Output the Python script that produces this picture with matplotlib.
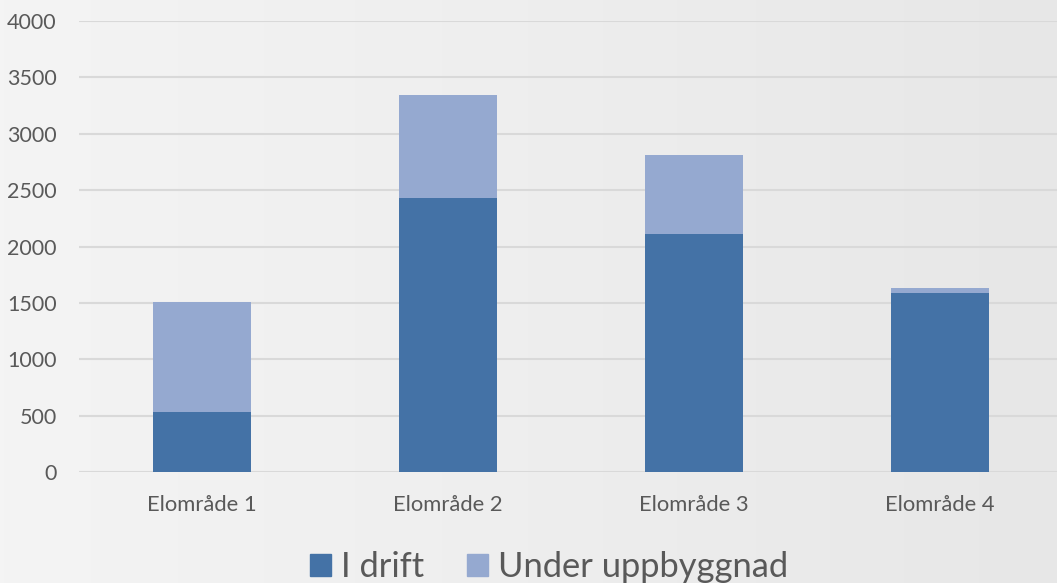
import matplotlib
matplotlib.use("Agg")
import matplotlib.pyplot as plt
import numpy as np
from matplotlib.patches import Patch
from matplotlib.colors import LinearSegmentedColormap

categories = ["Elområde 1", "Elområde 2", "Elområde 3", "Elområde 4"]
i_drift = [537, 2434, 2115, 1592]
under_uppbyggnad = [973, 911, 698, 42]
series_names = ["I drift", "Under uppbyggnad"]
y_ticks = [0, 500, 1000, 1500, 2000, 2500, 3000, 3500, 4000]

dark = "#4472a6"
light = "#95a9d0"
text_col = "#595959"
grid_col = "#d9d9d9"

plt.rcParams['font.family'] = ['Lato', 'DejaVu Sans']

W, H = 1057, 583
fig = plt.figure(figsize=(W / 100, H / 100), dpi=100)

# background gradient
bg = fig.add_axes([0, 0, 1, 1], zorder=-10)
grad = np.linspace(0, 1, 256)[None, :]
cmap = LinearSegmentedColormap.from_list("bg", ["#f4f4f4", "#eeeeee", "#e7e7e7"])
bg.imshow(grad, aspect="auto", cmap=cmap, extent=[0, 1, 0, 1])
bg.set_axis_off()

left = 79 / W
right = 1063 / W
bottom = (H - 472.3) / H
top = (H - 21) / H
ax = fig.add_axes([left, bottom, right - left, top - bottom])
ax.patch.set_alpha(0)

x = np.arange(len(categories))
width = 0.4
ax.bar(x, i_drift, width, color=dark, zorder=3, label=series_names[0])
ax.bar(x, under_uppbyggnad, width, bottom=i_drift, color=light, zorder=3, label=series_names[1])

ax.set_xlim(-0.5, len(categories) - 0.5)
ax.set_ylim(0, 4000)
ax.set_yticks(y_ticks)
ax.set_yticklabels([str(v) for v in y_ticks])
ax.set_xticks(x)
ax.set_xticklabels(categories)
ax.yaxis.grid(True, color=grid_col, linewidth=1.5, zorder=0)
for s in ax.spines.values():
    s.set_visible(False)
ax.tick_params(axis='both', length=0, colors=text_col)
ax.tick_params(axis='y', labelsize=15.5, pad=16)
ax.tick_params(axis='x', labelsize=15.8, pad=16)

handles = [Patch(color=dark), Patch(color=light)]
fig.legend(handles, series_names, loc="center", bbox_to_anchor=(549 / W, 1 - 567 / H),
           ncol=2, frameon=False, fontsize=24.8, labelcolor=text_col,
           handlelength=0.61, handleheight=0.61, handletextpad=0.3, columnspacing=1.25)

fig.savefig("out.png", dpi=100)
